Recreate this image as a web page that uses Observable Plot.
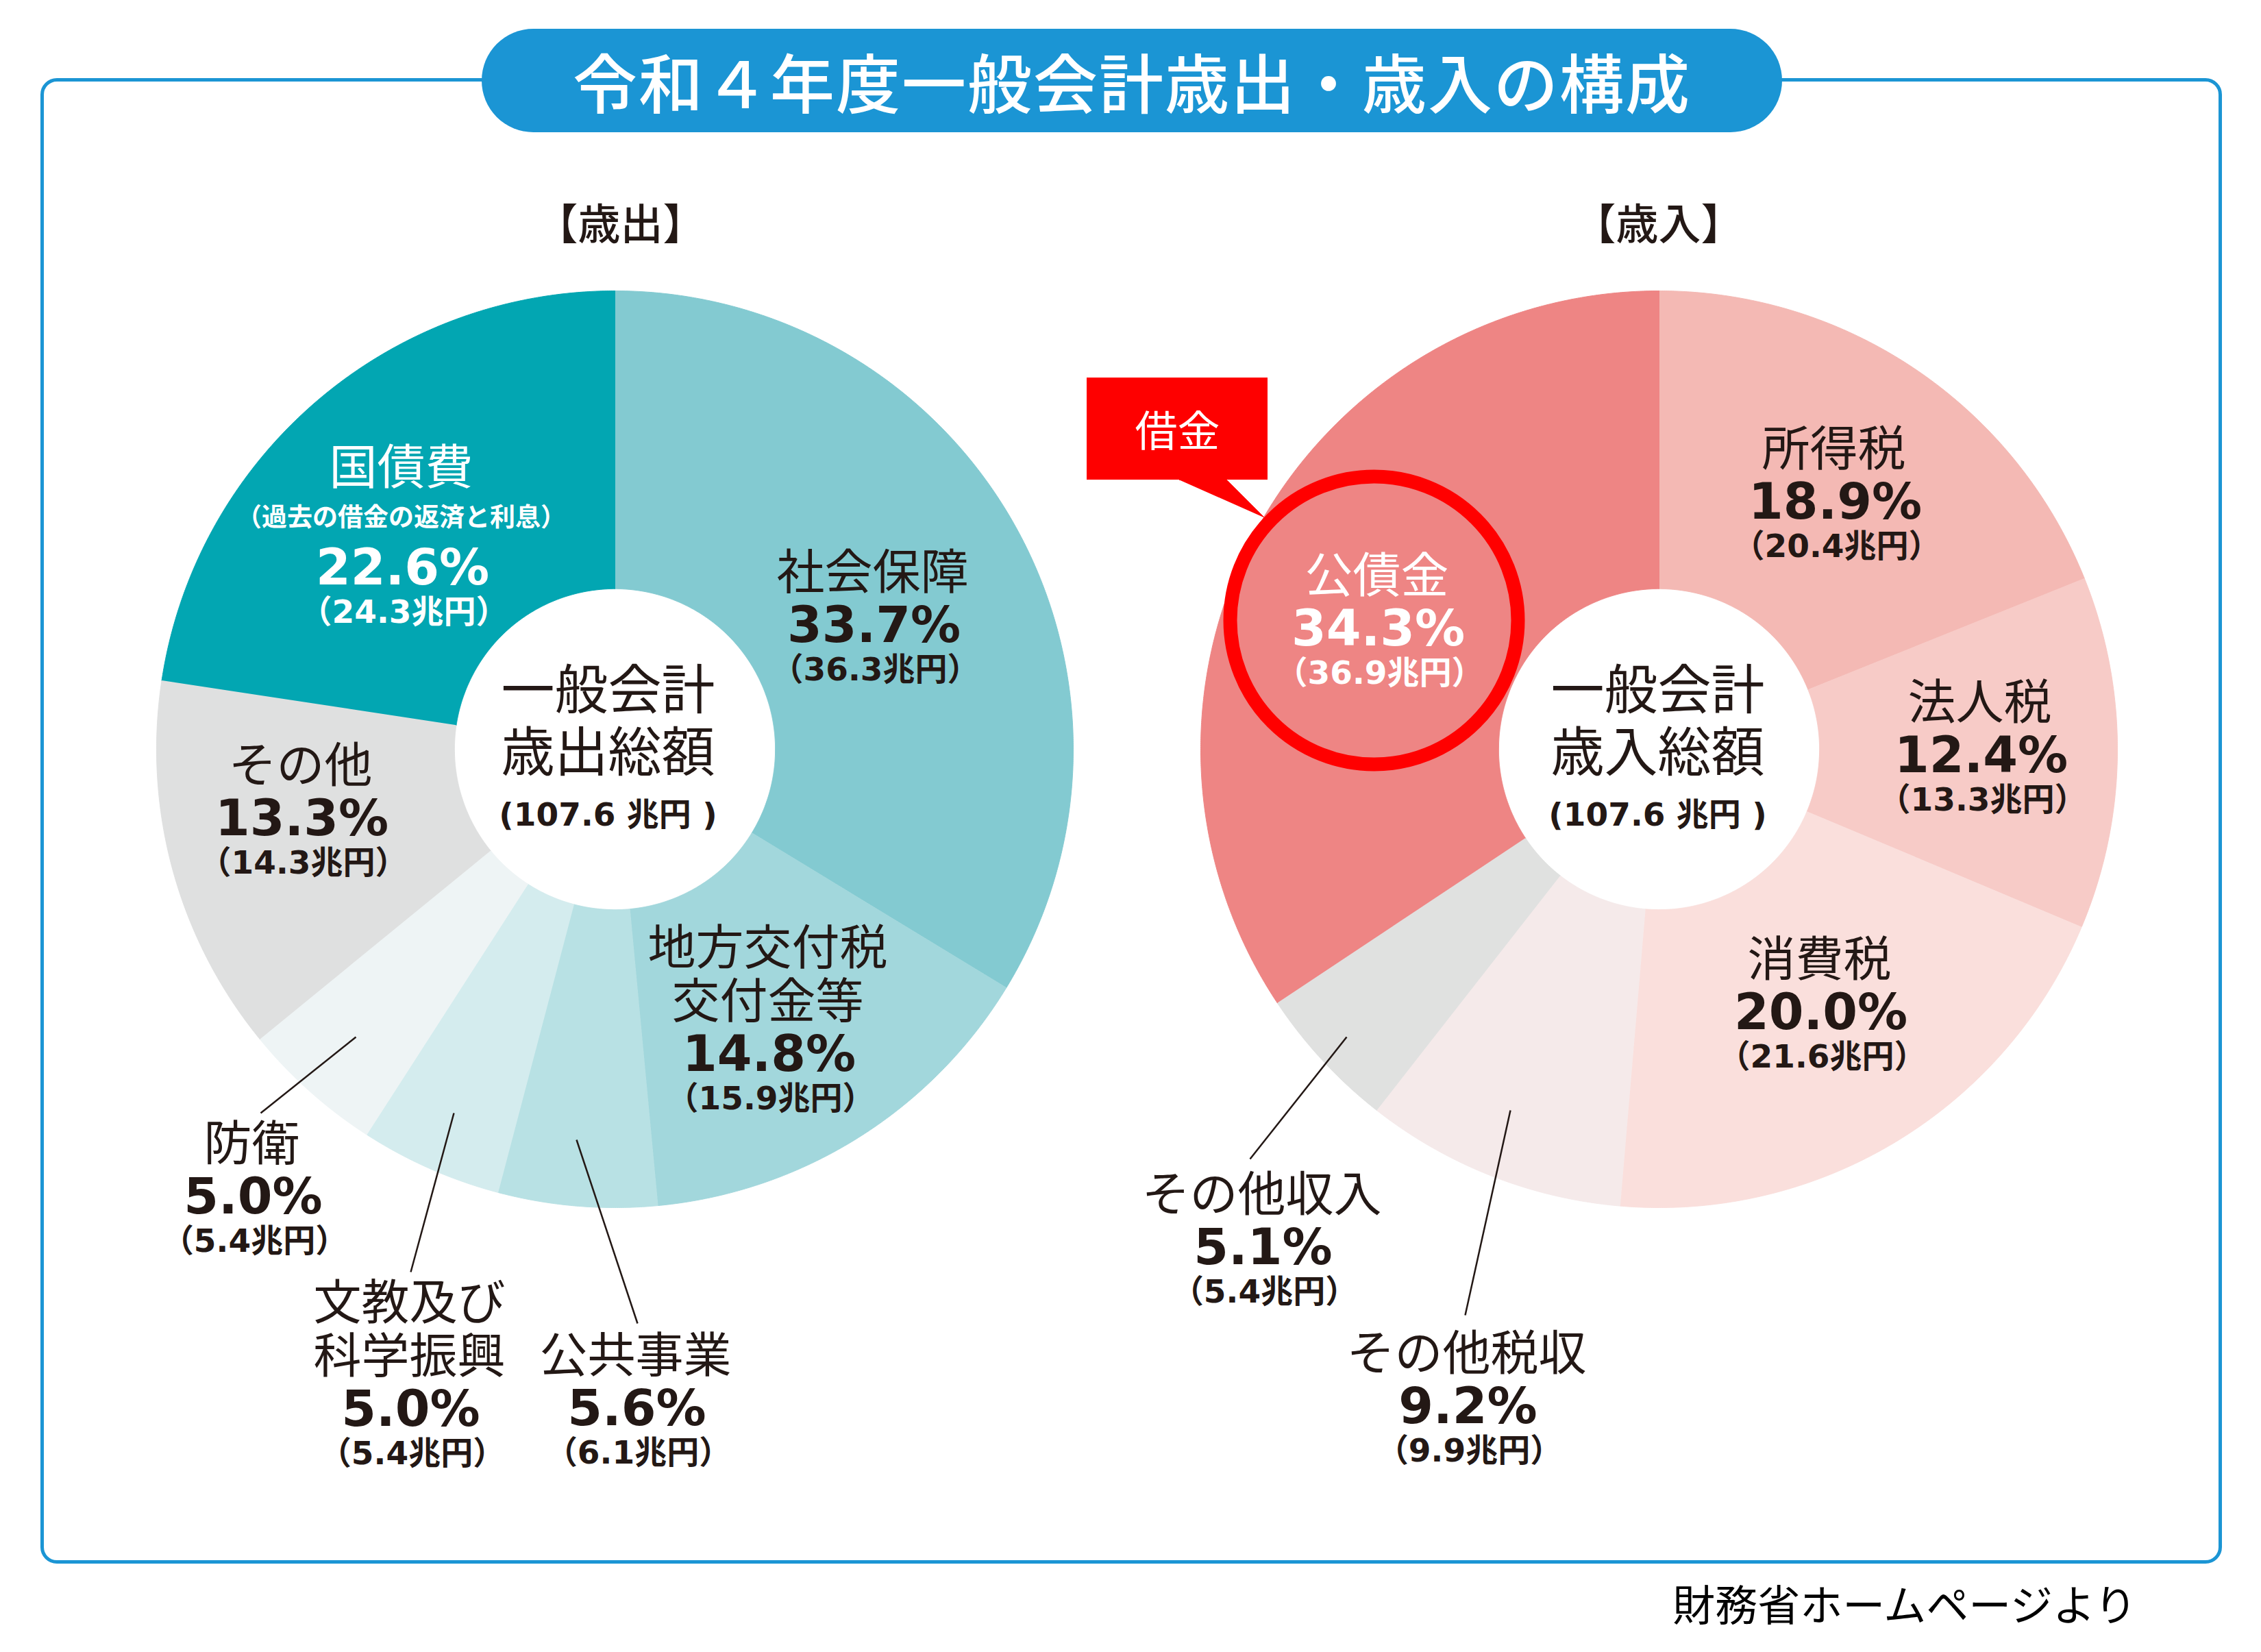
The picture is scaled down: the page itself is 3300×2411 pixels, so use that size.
<!DOCTYPE html>
<html lang="ja">
<head>
<meta charset="utf-8">
<script src="https://cdn.jsdelivr.net/npm/d3@7"></script>
<script src="https://cdn.jsdelivr.net/npm/@observablehq/plot@0.6"></script>
<style>
html,body{margin:0;padding:0;background:#fff;}
body{width:3300px;height:2411px;position:relative;overflow:hidden;font-family:"Noto Sans CJK JP","Noto Sans",sans-serif;}
#frame{position:absolute;left:59px;top:114px;width:3184px;height:2168px;box-sizing:border-box;border:5px solid #1b95d4;border-radius:24px;}
#title{position:absolute;left:703px;top:42px;width:1898px;height:151px;border-radius:76px;background:#1b95d4;color:#fff;font-size:94px;font-weight:500;line-height:151px;text-align:center;letter-spacing:2px;white-space:nowrap;}
#chart{position:absolute;left:0;top:200px;}
#caption{position:absolute;left:2400px;top:2306px;width:760px;text-align:center;font-size:62px;line-height:66px;color:#000;white-space:nowrap;}
</style>
</head>
<body>
<div id="frame"></div>
<div id="chart"></div>
<div id="title"></div>
<div id="caption"></div>
<script>
// ---------------- data ----------------
const titleText = "令和４年度一般会計歳出・歳入の構成";
const sourceText = "財務省ホームページより";
const pieTitles = ["【歳出】", "【歳入】"];
const centerLines = [["一般会計", "歳出総額"], ["一般会計", "歳入総額"]];
const totalAmt = [107.6, 107.6];

const expenseNames = ["社会保障", "地方交付税\n交付金等", "公共事業", "文教及び\n科学振興", "防衛", "その他", "国債費"];
const expensePct = [33.7, 14.8, 5.6, 5.0, 5.0, 13.3, 22.6];
const expenseAmt = [36.3, 15.9, 6.1, 5.4, 5.4, 14.3, 24.3];
const debtNote = "（過去の借金の返済と利息）";

const revenueNames = ["所得税", "法人税", "消費税", "その他税収", "その他収入", "公債金"];
const revenuePct = [18.9, 12.4, 20.0, 9.2, 5.1, 34.3];
const revenueAmt = [20.4, 13.3, 21.6, 9.9, 5.4, 36.9];
const calloutText = "借金";

// ---------------- styles / layout ----------------
const expenseColors = ["#83cad1", "#a2d7dc", "#b8e1e4", "#d4ecee", "#eef4f5", "#dfe0e0", "#02a6b2"];
const revenueColors = ["#f4b9b4", "#f7cbc7", "#fadfdc", "#f5eaea", "#e0e1e0", "#ee8584"];
const expenseTextColors = ["#231815", "#231815", "#231815", "#231815", "#231815", "#231815", "#ffffff"];
const revenueTextColors = ["#231815", "#231815", "#231815", "#231815", "#231815", "#ffffff"];
const ink = "#231815";

const R = 669;              // outer radius in px => 1 data unit
const innerRatio = 0.35;    // hole radius / outer radius
const pieCentersPx = [[897, 1093], [2421, 1093]]; // page px
const svgTop = 200, svgW = 3300, svgH = 2080;

// label anchor (percent line centre), px offsets from pie centre (screen y downward)
const expenseLabelPos = [[376, -180], [223, 446], [30, 963], [-300, 964], [-530, 654], [-459, 102], [-312, -264]];
const revenueLabelPos = [[255, -360], [468, 10], [234, 385], [-281, 960], [-580, 728], [-412, -175]];
// leader lines [pie, x1, y1, x2, y2] px offsets from pie centre
const leaderPos = [[0, -378, 420, -517, 531], [0, -235, 531, -298, 763], [0, -56, 570, 33, 838],
                   [1, -456, 420, -597, 598], [1, -217, 527, -283, 826]];
const headerPos = [[8, -763], [-1, -763]];
const centerTextX = [-10, -2];
const circlePos = [1, -416, -188];          // pie, dx, dy
const circleRadiusPx = 210;
const calloutBox = [1, -835, -542, -571, -393];  // pie, x1, y1, x2, y2
const calloutTri = [[-700, -393], [-631, -393], [-576, -338]];
const calloutTextPos = [1, -703, -461];

// ---------------- helpers ----------------
const ux = (pie, dx) => (pieCentersPx[pie][0] + dx - pieCentersPx[0][0]) / R;
const uy = (pie, dy) => -(pieCentersPx[pie][1] + dy - pieCentersPx[0][1]) / R;

function slicePolys(pie, names, values, colors) {
  const arcs = d3.pie().sort(null).value(d => d)(values);
  const pts = [];
  arcs.forEach((a, i) => {
    const key = pie + "-" + i;
    const n = Math.max(6, Math.ceil((a.endAngle - a.startAngle) / (Math.PI / 720)));
    const cx = ux(pie, 0), cy = uy(pie, 0);
    for (let k = 0; k <= n; k++) {
      const t = a.startAngle + (a.endAngle - a.startAngle) * k / n;
      pts.push({key, color: colors[i], x: cx + Math.sin(t), y: cy + Math.cos(t)});
    }
    for (let k = n; k >= 0; k--) {
      const t = a.startAngle + (a.endAngle - a.startAngle) * k / n;
      pts.push({key, color: colors[i], x: cx + innerRatio * Math.sin(t), y: cy + innerRatio * Math.cos(t)});
    }
  });
  return pts;
}

const slices = [
  ...slicePolys(0, expenseNames, expensePct, expenseColors),
  ...slicePolys(1, revenueNames, revenuePct, revenueColors)
];

// text rows
const nameRows = [], pctRows = [], amtRows = [], subRows = [];
function addLabels(pie, names, pcts, amts, pos, tcolors) {
  names.forEach((nm, i) => {
    const [dx, dy] = pos[i];
    const lines = nm.split("\n");
    const hasSub = pie === 0 && i === names.length - 1;
    lines.forEach((ln, j) => {
      const off = (hasSub ? -145 : -76) - (lines.length - 1 - j) * 78;
      nameRows.push({x: ux(pie, dx), y: uy(pie, dy + off), text: ln, color: tcolors[i]});
    });
    if (hasSub) subRows.push({x: ux(pie, dx), y: uy(pie, dy - 73), text: debtNote, color: tcolors[i]});
    pctRows.push({x: ux(pie, dx + 2), y: uy(pie, dy), text: pcts[i].toFixed(1) + "%", color: tcolors[i]});
    amtRows.push({x: ux(pie, dx + 4), y: uy(pie, dy + 64), text: "（" + amts[i].toFixed(1) + "兆円）", color: tcolors[i]});
  });
}
addLabels(0, expenseNames, expensePct, expenseAmt, expenseLabelPos, expenseTextColors);
addLabels(1, revenueNames, revenuePct, revenueAmt, revenueLabelPos, revenueTextColors);

const leaders = leaderPos.map(([p, x1, y1, x2, y2]) => ({x1: ux(p, x1), y1: uy(p, y1), x2: ux(p, x2), y2: uy(p, y2)}));
const headers = pieTitles.map((t, p) => ({x: ux(p, headerPos[p][0]), y: uy(p, headerPos[p][1]), text: t}));
const centerRows = [];
const totalRows = [];
[0, 1].forEach(p => {
  centerRows.push({x: ux(p, centerTextX[p]), y: uy(p, -83), text: centerLines[p][0]});
  centerRows.push({x: ux(p, centerTextX[p]), y: uy(p, 8), text: centerLines[p][1]});
  totalRows.push({x: ux(p, centerTextX[p]), y: uy(p, 96), text: "(" + totalAmt[p].toFixed(1) + " 兆円 )"});
});
const circle = [{x: ux(circlePos[0], circlePos[1]), y: uy(circlePos[0], circlePos[2])}];
const box = [{x1: ux(calloutBox[0], calloutBox[1]), y1: uy(calloutBox[0], calloutBox[2]),
              x2: ux(calloutBox[0], calloutBox[3]), y2: uy(calloutBox[0], calloutBox[4])}];
const tri = calloutTri.map(([dx, dy]) => ({x: ux(1, dx), y: uy(1, dy), key: "tri"}));
const calloutLabel = [{x: ux(calloutTextPos[0], calloutTextPos[1]), y: uy(calloutTextPos[0], calloutTextPos[2]), text: calloutText}];

const xDomain = [(0 - pieCentersPx[0][0]) / R, (svgW - pieCentersPx[0][0]) / R];
const yDomain = [(pieCentersPx[0][1] - (svgTop + svgH)) / R, (pieCentersPx[0][1] - svgTop) / R];

const jp = "Noto Sans CJK JP";
const numFont = "DejaVu Sans, Noto Sans CJK JP";

const plot = Plot.plot({
  width: svgW,
  height: svgH,
  margin: 0,
  x: {domain: xDomain, axis: null},
  y: {domain: yDomain, axis: null},
  color: {type: "identity"},
  style: {background: "transparent", overflow: "visible"},
  marks: [
    Plot.line(slices, {x: "x", y: "y", z: "key", fill: "color", stroke: "color", strokeWidth: 1, curve: "linear"}),
    Plot.link(leaders, {x1: "x1", y1: "y1", x2: "x2", y2: "y2", stroke: ink, strokeWidth: 2.5}),
    Plot.dot(circle, {x: "x", y: "y", r: circleRadiusPx, stroke: "#ff0000", strokeWidth: 20, fill: "none"}),
    Plot.rect(box, {x1: "x1", y1: "y1", x2: "x2", y2: "y2", fill: "#fe0000"}),
    Plot.line(tri, {x: "x", y: "y", z: "key", fill: "#fe0000", stroke: "#fe0000", strokeWidth: 1}),
    Plot.text(calloutLabel, {x: "x", y: "y", text: "text", fill: "#ffffff", fontSize: 62, fontFamily: jp, fontWeight: 400}),
    Plot.text(headers, {x: "x", y: "y", text: "text", fill: ink, fontSize: 62, fontFamily: jp, fontWeight: 500}),
    Plot.text(centerRows, {x: "x", y: "y", text: "text", fill: ink, fontSize: 78, fontFamily: jp, fontWeight: 400}),
    Plot.text(totalRows, {x: "x", y: "y", text: "text", fill: ink, fontSize: 47, fontFamily: numFont, fontWeight: 700, ariaLabel: "total"}),
    Plot.text(nameRows, {x: "x", y: "y", text: "text", fill: "color", fontSize: 70, fontFamily: jp, fontWeight: 400}),
    Plot.text(subRows, {x: "x", y: "y", text: "text", fill: "color", fontSize: 37, fontFamily: jp, fontWeight: 700}),
    Plot.text(pctRows, {x: "x", y: "y", text: "text", fill: "color", fontSize: 73, fontFamily: numFont, fontWeight: 700, ariaLabel: "pct"}),
    Plot.text(amtRows, {x: "x", y: "y", text: "text", fill: "color", fontSize: 47, fontFamily: numFont, fontWeight: 700, ariaLabel: "amt"})
  ]
});
plot.querySelectorAll('g[aria-label="pct"] text').forEach(t => t.style.letterSpacing = "3px");
plot.querySelectorAll('g[aria-label="amt"] text').forEach(t => t.style.letterSpacing = "8px");
plot.querySelectorAll('g[aria-label="total"] text').forEach(t => t.style.letterSpacing = "1px");
document.getElementById("chart").appendChild(plot);
document.getElementById("title").textContent = titleText;
document.getElementById("caption").textContent = sourceText;
</script>
</body>
</html>
